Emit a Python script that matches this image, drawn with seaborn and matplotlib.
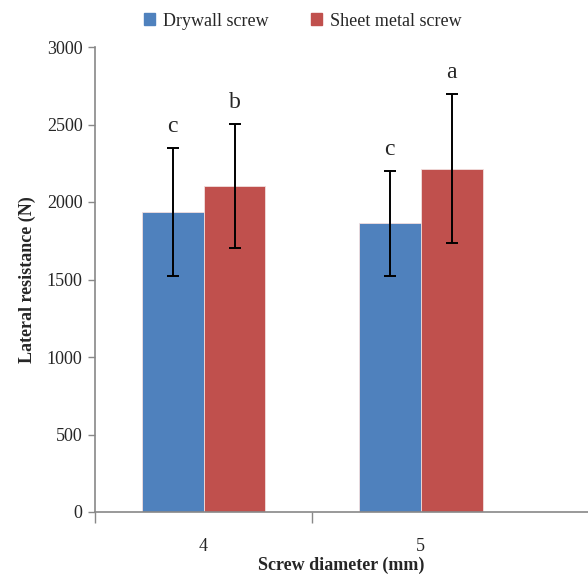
import numpy as np
import pandas as pd
import matplotlib
matplotlib.use("Agg")
from matplotlib import pyplot as plt
from matplotlib.ticker import FixedLocator
import seaborn as sns

# values
diameters = ['4', '5']
screw_types = ['Drywall screw', 'Sheet metal screw']
drywall_mean = [1935, 1862]
sheet_mean = [2102, 2215]
drywall_sd = [413, 337]
sheet_sd = [400, 482]
letters_drywall = ['c', 'c']
letters_sheet = ['b', 'a']

colors = ['#4F81BD', '#C0504D']

df = pd.DataFrame({
    'diameter': diameters * 2,
    'type': [screw_types[0]] * 2 + [screw_types[1]] * 2,
    'resistance': drywall_mean + sheet_mean,
    'sd': drywall_sd + sheet_sd,
    'letter': letters_drywall + letters_sheet,
})

sns.set_style('white')
plt.rcParams['font.family'] = ['Liberation Serif', 'DejaVu Serif']

fig = plt.figure(figsize=(5.88, 5.74), dpi=100)
ax = fig.add_axes([95 / 588, 1 - 512 / 574, 1 - 95 / 588, (512 - 47) / 574])

sns.barplot(data=df, x='diameter', y='resistance', hue='type', order=diameters,
            hue_order=screw_types, palette=colors, width=0.57, saturation=1,
            edgecolor='#f2dede', linewidth=0.6, errorbar=None, legend=False, ax=ax)

# error bars + letters on top of each bar
bars = [p for p in ax.patches if p.get_height() > 0]
for i, bar in enumerate(bars):
    row = df.iloc[i]
    xc = bar.get_x() + bar.get_width() / 2
    ax.errorbar(xc, row['resistance'], yerr=row['sd'], color='black', lw=1.4,
                capsize=4.5, capthick=1.4, fmt='none')
    ax.annotate(row['letter'], (xc, row['resistance'] + row['sd']),
                xytext=(0, 8), textcoords='offset points', ha='center',
                va='bottom', fontsize=17)

ax.set_ylim(0, 3000)
ax.set_yticks(np.arange(0, 3001, 500))
ax.set_xlim(-0.5, 1.77)
ax.xaxis.set_minor_locator(FixedLocator([-0.5, 0.5]))
ax.tick_params(axis='x', which='major', length=0, pad=19, labelsize=13)
ax.tick_params(axis='x', which='minor', length=8, width=1, color='#888888',
               direction='out', bottom=True)
ax.tick_params(axis='y', length=5, width=1, color='#888888', direction='out',
               left=True, pad=4, labelsize=13)

for side in ['top', 'right']:
    ax.spines[side].set_visible(False)
for side in ['left', 'bottom']:
    ax.spines[side].set_color('#888888')
    ax.spines[side].set_linewidth(1.2)

ax.set_xlabel('Screw diameter (mm)', fontsize=13, fontweight='bold', labelpad=1)
ax.set_ylabel('Lateral resistance (N)', fontsize=13, fontweight='bold', labelpad=8)

handles = [plt.Rectangle((0, 0), 1, 1, color=c) for c in colors]
fig.legend(handles, screw_types, loc='center', ncol=2,
           bbox_to_anchor=(0.515, 1 - 21 / 574), frameon=False, fontsize=13,
           handlelength=0.6, handleheight=0.6, handletextpad=0.4, columnspacing=2.4)

fig.savefig('out.png', dpi=100)
